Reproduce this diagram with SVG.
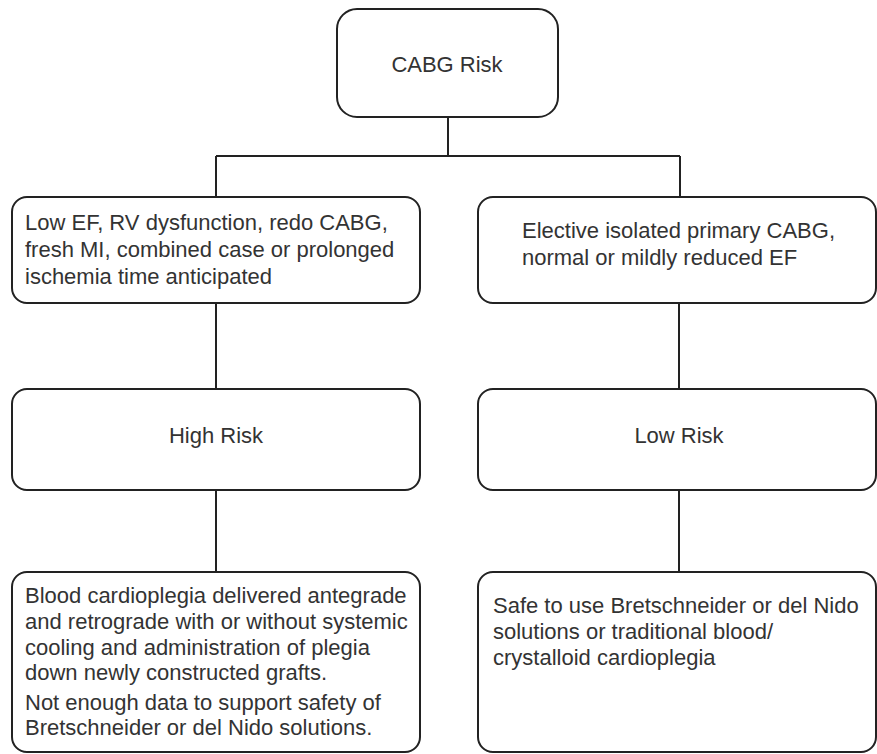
<svg xmlns="http://www.w3.org/2000/svg" width="877" height="754" viewBox="0 0 877 754">
<style>
.box{fill:#fff;stroke:#222;stroke-width:2}
.c{fill:none;stroke:#222;stroke-width:2}
text{font-family:"Liberation Sans",Arial,sans-serif;font-size:22px;fill:#333}
.m{text-anchor:middle}
</style>
<rect width="877" height="754" fill="#fff"/>
<g id="connectors">
<path class="c" d="M448 117V156M216 156H680M216 156V197M680 156V197"/>
<path class="c" d="M216 303V389M679 303V389"/>
<path class="c" d="M216 490V572M679 490V572"/>
</g>
<g id="cabg">
<rect class="box" x="337" y="9" width="221" height="108" rx="20"/>
<text class="m" x="447" y="72">CABG Risk</text>
</g>
<g id="high-criteria">
<rect class="box" x="12" y="197" width="408" height="106" rx="15"/>
<text x="25" y="230">Low EF, RV dysfunction, redo CABG,</text>
<text x="25" y="257">fresh MI, combined case or prolonged</text>
<text x="25" y="284">ischemia time anticipated</text>
</g>
<g id="low-criteria">
<rect class="box" x="478" y="197" width="398" height="106" rx="15"/>
<text x="522" y="238">Elective isolated primary CABG,</text>
<text x="522" y="265">normal or mildly reduced EF</text>
</g>
<g id="high-risk">
<rect class="box" x="12" y="389" width="408" height="101" rx="15"/>
<text class="m" x="216" y="443">High Risk</text>
</g>
<g id="low-risk">
<rect class="box" x="478" y="389" width="398" height="101" rx="15"/>
<text class="m" x="679" y="443">Low Risk</text>
</g>
<g id="high-action">
<rect class="box" x="12" y="572" width="408" height="180" rx="15"/>
<text x="25" y="603">Blood cardioplegia delivered antegrade</text>
<text x="25" y="629">and retrograde with or without systemic</text>
<text x="25" y="655">cooling and administration of plegia</text>
<text x="25" y="680">down newly constructed grafts.</text>
<text x="25" y="710">Not enough data to support safety of</text>
<text x="25" y="735">Bretschneider or del Nido solutions.</text>
</g>
<g id="low-action">
<rect class="box" x="478" y="572" width="398" height="180" rx="15"/>
<text x="493" y="613">Safe to use Bretschneider or del Nido</text>
<text x="493" y="639">solutions or traditional blood/</text>
<text x="493" y="665">crystalloid cardioplegia</text>
</g>
</svg>
